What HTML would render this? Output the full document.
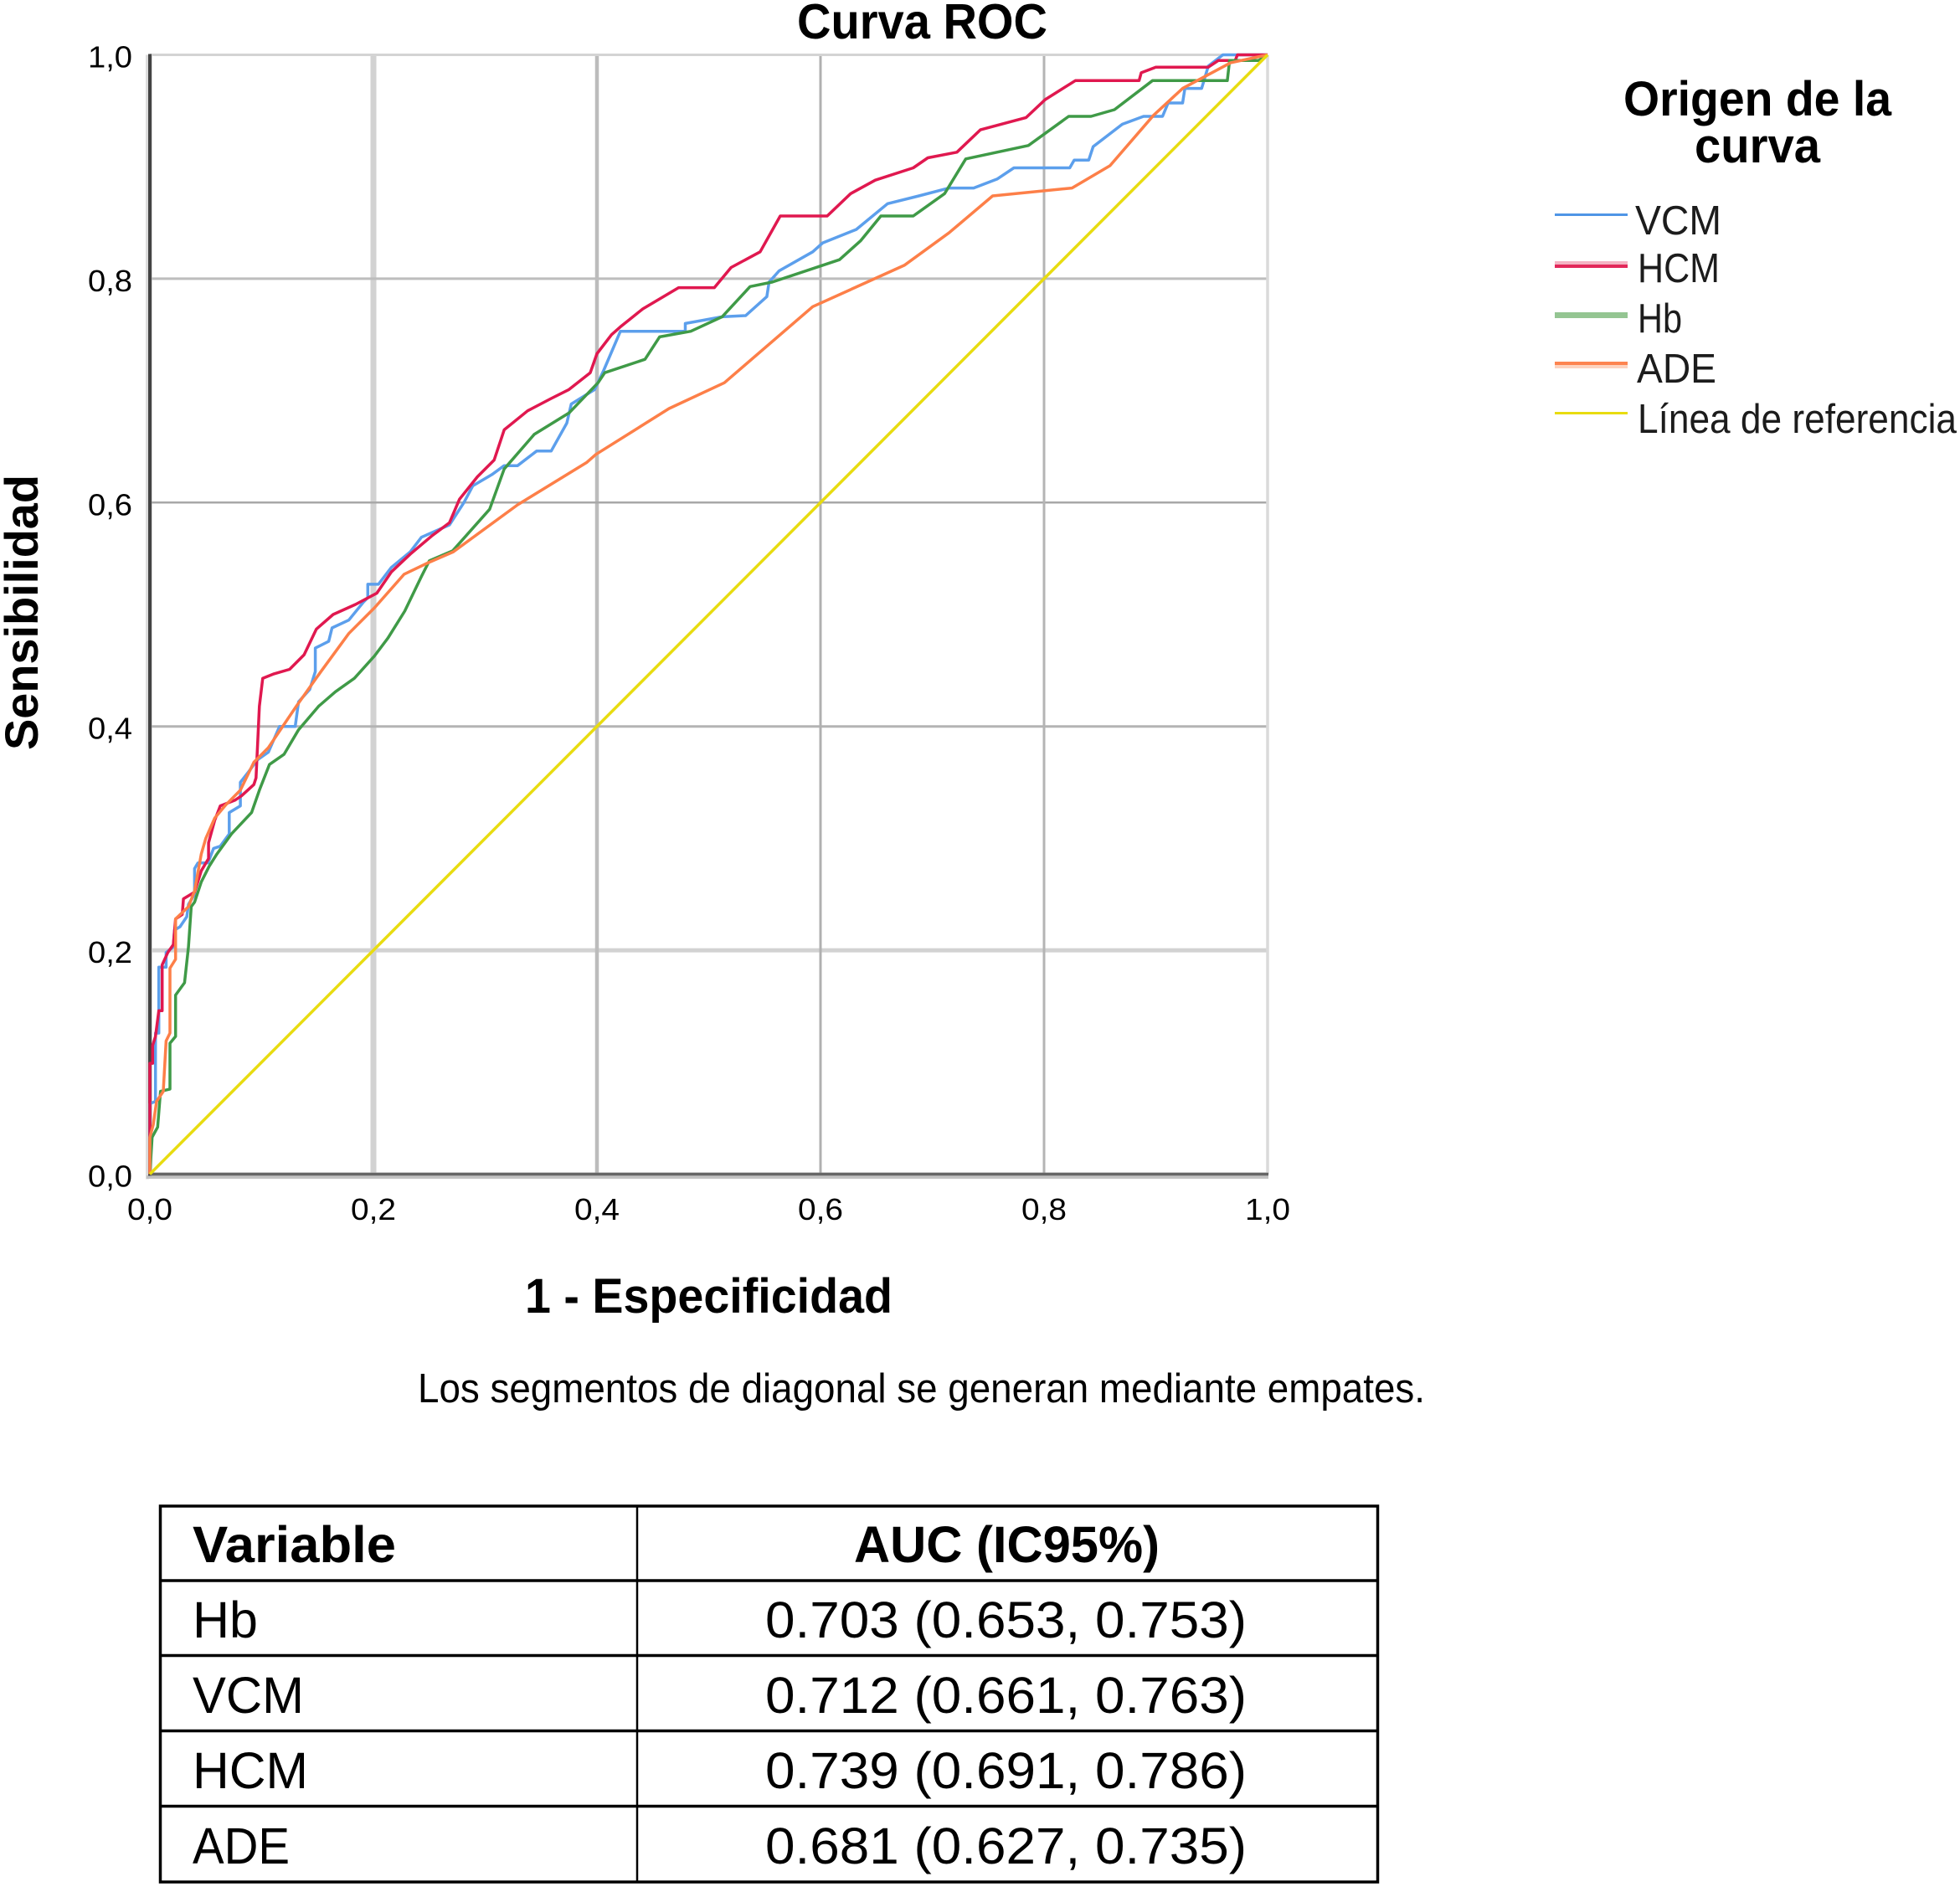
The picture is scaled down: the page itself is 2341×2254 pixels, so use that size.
<!DOCTYPE html>
<html lang="es">
<head>
<meta charset="utf-8">
<title>Curva ROC</title>
<style>
  html, body { margin: 0; padding: 0; background: #fff; }
  body { width: 2341px; height: 2254px; overflow: hidden; }
  svg { display: block; }
  text { font-family: "Liberation Sans", sans-serif; fill: #000; }
  .b { font-weight: bold; }
  .lg { font-size: 49px; fill: #1c1c1c; }
  .tb { font-size: 61px; }
</style>
</head>
<body>
<svg id="page" xmlns="http://www.w3.org/2000/svg" width="2341" height="2254" viewBox="0 0 2341 2254">
  <rect width="2341" height="2254" fill="#fff"/>

  <text class="b" x="952" y="46" font-size="59" textLength="299" lengthAdjust="spacingAndGlyphs">Curva ROC</text>

  <g id="grid"></g>
  <g id="axes"></g>
  <g id="curves"></g>
  <g id="ticks"></g>

  <text class="b" transform="translate(45,896) rotate(-90)" font-size="56" textLength="329" lengthAdjust="spacingAndGlyphs">Sensibilidad</text>
  <text class="b" x="627" y="1568" font-size="58" textLength="439" lengthAdjust="spacingAndGlyphs">1 - Especificidad</text>
  <text x="499" y="1675" font-size="49" fill="#1c1c1c" textLength="1203" lengthAdjust="spacingAndGlyphs">Los segmentos de diagonal se generan mediante empates.</text>

  <g>
    <text class="b" x="1939" y="138" font-size="58" textLength="320" lengthAdjust="spacingAndGlyphs">Origen de la</text>
    <text class="b" x="2024" y="194" font-size="58" textLength="150" lengthAdjust="spacingAndGlyphs">curva</text>

    <rect x="1857" y="255" width="87" height="3" fill="#4f95e6"/>
    <text class="lg" x="1953" y="280" textLength="103" lengthAdjust="spacingAndGlyphs">VCM</text>

    <rect x="1857" y="312" width="87" height="8" fill="#f4b3c3"/>
    <rect x="1857" y="316" width="87" height="4" fill="#e2285a"/>
    <text class="lg" x="1956" y="337" textLength="98" lengthAdjust="spacingAndGlyphs">HCM</text>

    <rect x="1857" y="373" width="87" height="7" fill="#94c592"/>
    <text class="lg" x="1956" y="397" textLength="53" lengthAdjust="spacingAndGlyphs">Hb</text>

    <rect x="1857" y="432" width="87" height="8" fill="#fdd3bf"/>
    <rect x="1857" y="432" width="87" height="4" fill="#fd8450"/>
    <text class="lg" x="1955" y="457" textLength="95" lengthAdjust="spacingAndGlyphs">ADE</text>

    <rect x="1857" y="492" width="87" height="3" fill="#e8dc10"/>
    <text class="lg" x="1956" y="517" textLength="381" lengthAdjust="spacingAndGlyphs">Línea de referencia</text>
  </g>

  <g>
    <g stroke="#000" fill="none">
      <rect x="191.5" y="1799" width="1454" height="449" stroke-width="3.5"/>
      <line x1="761" y1="1799" x2="761" y2="2248" stroke-width="2.5"/>
      <line x1="191" y1="1888" x2="1645" y2="1888" stroke-width="3.5"/>
      <line x1="191" y1="1977.5" x2="1645" y2="1977.5" stroke-width="3.5"/>
      <line x1="191" y1="2067.5" x2="1645" y2="2067.5" stroke-width="3.5"/>
      <line x1="191" y1="2157.5" x2="1645" y2="2157.5" stroke-width="3.5"/>
    </g>
    <text class="tb b" x="230" y="1866" textLength="243" lengthAdjust="spacingAndGlyphs">Variable</text>
    <text class="tb b" x="1020" y="1866" textLength="365" lengthAdjust="spacingAndGlyphs">AUC (IC95%)</text>

    <text class="tb" x="230" y="1956" textLength="78" lengthAdjust="spacingAndGlyphs">Hb</text>
    <text class="tb" x="914" y="1956" textLength="575" lengthAdjust="spacingAndGlyphs">0.703 (0.653, 0.753)</text>

    <text class="tb" x="230" y="2046" textLength="133" lengthAdjust="spacingAndGlyphs">VCM</text>
    <text class="tb" x="914" y="2046" textLength="575" lengthAdjust="spacingAndGlyphs">0.712 (0.661, 0.763)</text>

    <text class="tb" x="230" y="2136" textLength="138" lengthAdjust="spacingAndGlyphs">HCM</text>
    <text class="tb" x="914" y="2136" textLength="575" lengthAdjust="spacingAndGlyphs">0.739 (0.691, 0.786)</text>

    <text class="tb" x="230" y="2226" textLength="116" lengthAdjust="spacingAndGlyphs">ADE</text>
    <text class="tb" x="914" y="2226" textLength="575" lengthAdjust="spacingAndGlyphs">0.681 (0.627, 0.735)</text>
  </g>
</svg>

<script>
const tickValues = [0, 0.2, 0.4, 0.6, 0.8, 1];
const tickLabels = ["0,0", "0,2", "0,4", "0,6", "0,8", "1,0"];

const vcmPoints = [[0,0],[0,.063],[.005,.065],[.005,.126],[.008,.126],[.008,.185],[.0145,.185],[.0145,.198],[.021,.203],[.022,.218],[.027,.221],[.033,.23],[.0345,.241],[.04,.25],[.04,.273],[.043,.278],[.052,.278],[.057,.291],[.063,.293],[.071,.304],[.071,.323],[.081,.329],[.081,.35],[.088,.359],[.096,.37],[.106,.377],[.116,.4],[.13,.4],[.133,.422],[.143,.433],[.148,.449],[.148,.47],[.16,.476],[.163,.488],[.178,.495],[.191,.511],[.195,.515],[.195,.527],[.2045,.527],[.216,.542],[.233,.556],[.243,.569],[.268,.58],[.281,.6],[.289,.615],[.306,.625],[.317,.633],[.329,.633],[.346,.646],[.359,.646],[.373,.671],[.377,.688],[.398,.701],[.406,.718],[.421,.753],[.479,.753],[.479,.76],[.512,.766],[.533,.767],[.552,.784],[.554,.797],[.563,.807],[.593,.824],[.602,.832],[.632,.844],[.66,.867],[.688,.874],[.715,.881],[.737,.881],[.758,.889],[.773,.899],[.823,.899],[.827,.906],[.84,.906],[.844,.918],[.87,.938],[.889,.945],[.906,.945],[.911,.957],[.924,.957],[.926,.97],[.941,.97],[.947,.99],[.96,1],[1,1]];

const hcmPoints = [[0,0],[0,.099],[.0025,.099],[.0025,.115],[.005,.123],[.008,.146],[.011,.146],[.011,.187],[.016,.198],[.021,.205],[.023,.228],[.029,.232],[.03,.246],[.04,.252],[.046,.271],[.0525,.282],[.0525,.296],[.058,.316],[.063,.329],[.076,.334],[.082,.338],[.093,.348],[.095,.354],[.098,.418],[.101,.443],[.111,.447],[.125,.451],[.138,.464],[.149,.487],[.164,.5],[.184,.509],[.203,.519],[.216,.538],[.233,.554],[.252,.57],[.268,.582],[.277,.603],[.293,.623],[.308,.638],[.317,.665],[.338,.682],[.359,.693],[.375,.701],[.394,.716],[.4,.733],[.413,.75],[.421,.757],[.441,.773],[.473,.792],[.505,.792],[.52,.81],[.546,.824],[.564,.856],[.606,.856],[.627,.876],[.649,.888],[.683,.899],[.696,.908],[.722,.913],[.743,.933],[.784,.944],[.801,.96],[.828,.977],[.885,.977],[.887,.984],[.9,.989],[.947,.989],[.956,.995],[.971,.995],[.973,1],[1,1]];

const hbPoints = [[0,0],[.002,.033],[.007,.042],[.0095,.074],[.018,.076],[.018,.117],[.023,.123],[.023,.16],[.031,.171],[.0345,.203],[.037,.239],[.04,.243],[.046,.261],[.053,.275],[.06,.286],[.073,.304],[.091,.323],[.098,.343],[.107,.366],[.12,.375],[.133,.397],[.151,.418],[.166,.431],[.183,.443],[.201,.463],[.213,.479],[.228,.503],[.243,.534],[.25,.548],[.271,.557],[.304,.594],[.317,.63],[.344,.661],[.375,.68],[.401,.707],[.407,.716],[.443,.728],[.456,.748],[.484,.753],[.512,.766],[.537,.793],[.557,.797],[.617,.817],[.636,.834],[.654,.856],[.683,.856],[.711,.876],[.73,.907],[.786,.919],[.822,.945],[.842,.945],[.863,.951],[.897,.977],[.964,.977],[.966,.995],[.992,.995],[1,1]];

const adePoints = [[0,0],[0,.033],[.003,.044],[.006,.065],[.012,.074],[.0145,.119],[.018,.126],[.018,.184],[.023,.192],[.023,.228],[.0345,.239],[.04,.253],[.046,.286],[.05,.3],[.058,.318],[.068,.33],[.081,.343],[.093,.368],[.106,.381],[.131,.418],[.153,.449],[.178,.483],[.201,.506],[.2275,.536],[.2485,.546],[.2715,.556],[.329,.598],[.391,.636],[.399,.643],[.4645,.684],[.514,.707],[.593,.775],[.675,.812],[.715,.841],[.754,.874],[.825,.881],[.859,.901],[.898,.946],[.924,.97],[.967,.993],[1,1]];

const referencePoints = [[0,0],[1,1]];

const X0 = 179, XSPAN = 1335, Y0 = 1402.5, YSPAN = 1337;
const NS = "http://www.w3.org/2000/svg";

function xScale(v) { return X0 + v * XSPAN; }
function yScale(v) { return Y0 - v * YSPAN; }
function pathFrom(points) {
  return points.map(function (p, i) {
    return (i ? "L" : "M") + xScale(p[0]).toFixed(1) + " " + yScale(p[1]).toFixed(1);
  }).join(" ");
}

const gridLayer = document.getElementById("grid");
const axesLayer = document.getElementById("axes");
const curvesLayer = document.getElementById("curves");
const ticksLayer = document.getElementById("ticks");

const vGridLook = [["#d8d8d8", 6], ["#d2d2d2", 7], ["#bcbcbc", 4.5], ["#b0b0b0", 3], ["#b4b4b4", 3], ["#dadada", 3.5]];
const hGridLook = [["#c4c4c4", 4], ["#d2d2d2", 5], ["#b4b4b4", 3], ["#a8a8a8", 2.5], ["#bdbdbd", 3], ["#d4d4d4", 3]];

tickValues.forEach(function (v, i) {
  const vl = document.createElementNS(NS, "line");
  
  
  vl.setAttribute("x1", xScale(v));
  vl.setAttribute("x2", xScale(v));
  vl.setAttribute("y1", yScale(1));
  vl.setAttribute("y2", yScale(0));
  vl.setAttribute("stroke", vGridLook[i][0]);
  vl.setAttribute("stroke-width", vGridLook[i][1]);
  gridLayer.appendChild(vl);

  const hl = document.createElementNS(NS, "line");
  
  
  hl.setAttribute("x1", xScale(0));
  hl.setAttribute("x2", xScale(1));
  hl.setAttribute("y1", yScale(v));
  hl.setAttribute("y2", yScale(v));
  hl.setAttribute("stroke", hGridLook[i][0]);
  hl.setAttribute("stroke-width", hGridLook[i][1]);
  gridLayer.appendChild(hl);

  const xt = document.createElementNS(NS, "text");
  
  
  xt.setAttribute("x", xScale(v) - 27);
  xt.setAttribute("y", 1457);
  xt.setAttribute("font-size", "36");
  xt.setAttribute("fill", "#222");
  xt.setAttribute("textLength", "54");
  xt.setAttribute("lengthAdjust", "spacingAndGlyphs");
  xt.textContent = tickLabels[i];
  ticksLayer.appendChild(xt);

  const yt = document.createElementNS(NS, "text");
  
  
  yt.setAttribute("x", 105);
  yt.setAttribute("y", yScale(v) + 15);
  yt.setAttribute("font-size", "36");
  yt.setAttribute("fill", "#222");
  yt.setAttribute("textLength", "53");
  yt.setAttribute("lengthAdjust", "spacingAndGlyphs");
  yt.textContent = tickLabels[i];
  ticksLayer.appendChild(yt);
});

const leftShade = document.createElementNS(NS, "line");


leftShade.setAttribute("x1", xScale(0) - 3);
leftShade.setAttribute("x2", xScale(0) - 3);
leftShade.setAttribute("y1", yScale(1));
leftShade.setAttribute("y2", yScale(0) + 6);
leftShade.setAttribute("stroke", "#dcdcdc");
leftShade.setAttribute("stroke-width", "4");
axesLayer.appendChild(leftShade);

const bottomShade = document.createElementNS(NS, "line");


bottomShade.setAttribute("x1", xScale(0) - 4);
bottomShade.setAttribute("x2", xScale(1) + 1);
bottomShade.setAttribute("y1", yScale(0) + 3.5);
bottomShade.setAttribute("y2", yScale(0) + 3.5);
bottomShade.setAttribute("stroke", "#c2c2c2");
bottomShade.setAttribute("stroke-width", "4");
axesLayer.appendChild(bottomShade);

const yAxisLine = document.createElementNS(NS, "line");


yAxisLine.setAttribute("x1", xScale(0));
yAxisLine.setAttribute("x2", xScale(0));
yAxisLine.setAttribute("y1", yScale(1) - 1);
yAxisLine.setAttribute("y2", yScale(0) + 2);
yAxisLine.setAttribute("stroke", "#444");
yAxisLine.setAttribute("stroke-width", "4");
axesLayer.appendChild(yAxisLine);

const xAxisLine = document.createElementNS(NS, "line");


xAxisLine.setAttribute("x1", xScale(0));
xAxisLine.setAttribute("x2", xScale(1) + 1);
xAxisLine.setAttribute("y1", yScale(0));
xAxisLine.setAttribute("y2", yScale(0));
xAxisLine.setAttribute("stroke", "#666");
xAxisLine.setAttribute("stroke-width", "3.5");
axesLayer.appendChild(xAxisLine);

const vcmLine = document.createElementNS(NS, "path");


vcmLine.setAttribute("d", pathFrom(vcmPoints));
vcmLine.setAttribute("fill", "none");
vcmLine.setAttribute("stroke", "#5c9fec");
vcmLine.setAttribute("stroke-width", "3.5");
vcmLine.setAttribute("stroke-linejoin", "round");
curvesLayer.appendChild(vcmLine);

const hcmLine = document.createElementNS(NS, "path");


hcmLine.setAttribute("d", pathFrom(hcmPoints));
hcmLine.setAttribute("fill", "none");
hcmLine.setAttribute("stroke", "#e0184f");
hcmLine.setAttribute("stroke-width", "3.5");
hcmLine.setAttribute("stroke-linejoin", "round");
curvesLayer.appendChild(hcmLine);

const hbLine = document.createElementNS(NS, "path");


hbLine.setAttribute("d", pathFrom(hbPoints));
hbLine.setAttribute("fill", "none");
hbLine.setAttribute("stroke", "#3f9a47");
hbLine.setAttribute("stroke-width", "3.5");
hbLine.setAttribute("stroke-linejoin", "round");
curvesLayer.appendChild(hbLine);

const adeLine = document.createElementNS(NS, "path");


adeLine.setAttribute("d", pathFrom(adePoints));
adeLine.setAttribute("fill", "none");
adeLine.setAttribute("stroke", "#fd7f48");
adeLine.setAttribute("stroke-width", "3.5");
adeLine.setAttribute("stroke-linejoin", "round");
curvesLayer.appendChild(adeLine);

const referenceLine = document.createElementNS(NS, "path");


referenceLine.setAttribute("d", pathFrom(referencePoints));
referenceLine.setAttribute("fill", "none");
referenceLine.setAttribute("stroke", "#e8dc10");
referenceLine.setAttribute("stroke-width", "3.5");
curvesLayer.appendChild(referenceLine);
</script>
</body>
</html>
